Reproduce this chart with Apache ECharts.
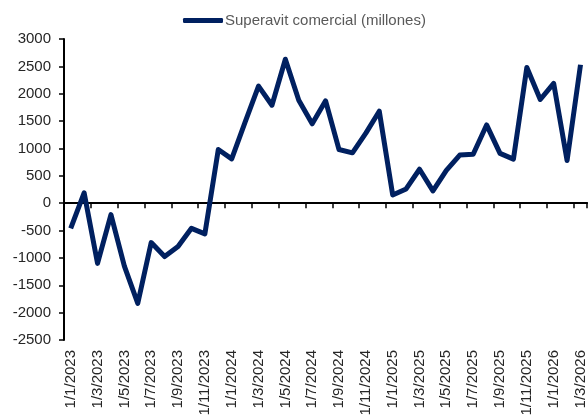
<!DOCTYPE html>
<html>
<head>
<meta charset="utf-8">
<script src="https://cdn.jsdelivr.net/npm/echarts@6/dist/echarts.min.js"></script>
<style>
  html, body { margin: 0; padding: 0; background: #fff; }
  #chart { width: 588px; height: 419px; }
</style>
</head>
<body>
<div id="chart"></div>
<script>
var months = [
  '1/1/2023', '1/2/2023', '1/3/2023', '1/4/2023', '1/5/2023', '1/6/2023', '1/7/2023', '1/8/2023',
  '1/9/2023', '1/10/2023', '1/11/2023', '1/12/2023',
  '1/1/2024', '1/2/2024', '1/3/2024', '1/4/2024', '1/5/2024', '1/6/2024', '1/7/2024', '1/8/2024',
  '1/9/2024', '1/10/2024', '1/11/2024', '1/12/2024',
  '1/1/2025', '1/2/2025', '1/3/2025', '1/4/2025', '1/5/2025', '1/6/2025', '1/7/2025', '1/8/2025',
  '1/9/2025', '1/10/2025', '1/11/2025', '1/12/2025',
  '1/1/2026', '1/2/2026', '1/3/2026'
];
var superavit = [
  -460, 190, -1100, -210, -1150, -1830, -720, -975, -790, -460, -560, 980,
  810, 1480, 2140, 1790, 2630, 1880, 1450, 1870, 980, 920, 1280, 1680,
  150, 260, 620, 225, 600, 880, 895, 1430, 910, 805, 2480, 1895,
  2190, 780, 2530
];
var seriesName = 'Superavit comercial (millones)';

var chart = echarts.init(document.getElementById('chart'));
var font = 'Liberation Sans';

var option = {
  animation: false,
  textStyle: { fontFamily: font },
  legend: {
    data: [seriesName],
    left: 178,
    top: 8,
    icon: 'roundRect',
    itemWidth: 40,
    itemHeight: 5,
    itemGap: 2,
    textStyle: { color: '#595959', fontSize: 15, fontFamily: font, padding: [0, 0, 0, -3] }
  },
  grid: {
    left: 64,
    right: 0,
    top: 39,
    bottom: 79
  },
  xAxis: [
    {
      type: 'category',
      data: months,
      boundaryGap: true,
      axisLine: { onZero: true, lineStyle: { color: '#000', width: 2 } },
      axisTick: { show: true, interval: 1, length: 5, lineStyle: { color: '#000', width: 1.5 } },
      axisLabel: { show: false },
      splitLine: { show: false }
    },
    {
      type: 'category',
      data: months,
      position: 'bottom',
      boundaryGap: true,
      axisLine: { show: false, onZero: false },
      axisTick: { show: false },
      axisLabel: {
        interval: 1,
        rotate: 90,
        margin: 10,
        color: '#262626',
        fontSize: 15,
        fontFamily: font
      },
      splitLine: { show: false }
    }
  ],
  yAxis: {
    type: 'value',
    min: -2500,
    max: 3000,
    interval: 500,
    axisLine: { show: true, lineStyle: { color: '#000', width: 2 } },
    axisTick: { show: true, length: 5, lineStyle: { color: '#000', width: 1.5 } },
    axisLabel: {
      color: '#262626',
      fontSize: 15,
      margin: 13,
      fontFamily: font,
      formatter: function (v) { return String(v); }
    },
    splitLine: { show: false }
  },
  series: [
    {
      name: seriesName,
      type: 'line',
      xAxisIndex: 0,
      data: superavit,
      showSymbol: false,
      symbol: 'none',
      lineStyle: { color: '#002060', width: 5, join: 'round' },
      itemStyle: { color: '#002060' }
    }
  ]
};

chart.setOption(option);
</script>
</body>
</html>
